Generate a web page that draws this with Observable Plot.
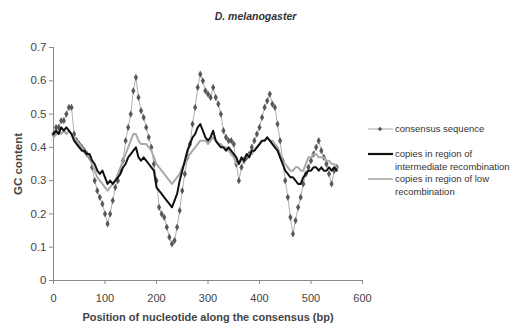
<!DOCTYPE html>
<html>
<head>
<meta charset="utf-8">
<script src="https://cdn.jsdelivr.net/npm/d3@7"></script>
<script src="https://cdn.jsdelivr.net/npm/@observablehq/plot@0.6"></script>
<style>
  html, body { margin: 0; padding: 0; background: #fff; }
  #wrap { position: relative; width: 511px; height: 334px; font-family: "Liberation Sans", Arial, sans-serif; color: #333; }
  #title { position: absolute; left: 0; width: 511px; top: 10px; text-align: center; font-size: 10.5px; font-weight: bold; font-style: italic; color: #333; }
  #legend { position: absolute; left: 366px; top: 0; font-size: 9.5px; color: #333; }
  .li { position: absolute; left: 0; white-space: nowrap; }
  .li svg { position: absolute; left: 0; top: 0; }
  .li span { position: absolute; left: 29px; top: -6px; line-height: 12.5px; }
  #chart svg [aria-label="y-axis label"] text, #chart svg [aria-label="x-axis label"] text { font-weight: bold; }
</style>
</head>
<body>
<div id="wrap">
  <div id="chart"></div>
  <div id="title">D. melanogaster</div>
  <div id="legend"></div>
</div>
<script>
const position = [0,5,10,15,20,25,30,35,40,45,50,55,60,65,70,75,80,85,90,95,
  100,105,110,115,120,125,130,135,140,145,150,155,160,165,170,175,180,185,190,195,
  200,205,210,215,220,225,230,235,240,245,250,255,260,265,270,275,280,285,290,295,
  300,305,310,315,320,325,330,335,340,345,350,355,360,365,370,375,380,385,390,395,
  400,405,410,415,420,425,430,435,440,445,450,455,460,465,470,475,480,485,490,495,
  500,505,510,515,520,525,530,535,540,545,550];

const consensus = [0.44,0.46,0.46,0.48,0.48,0.50,0.52,0.52,0.44,0.42,0.41,0.40,0.39,0.38,0.37,0.34,0.30,0.27,0.25,0.23,
  0.20,0.17,0.20,0.24,0.28,0.30,0.33,0.36,0.42,0.46,0.50,0.57,0.61,0.55,0.51,0.49,0.46,0.43,0.40,0.35,
  0.30,0.22,0.20,0.19,0.16,0.13,0.11,0.12,0.16,0.21,0.27,0.32,0.37,0.41,0.47,0.52,0.58,0.62,0.60,0.57,
  0.56,0.55,0.58,0.55,0.53,0.50,0.45,0.43,0.42,0.42,0.41,0.35,0.30,0.34,0.36,0.37,0.38,0.40,0.42,0.44,
  0.46,0.49,0.52,0.54,0.56,0.53,0.52,0.47,0.42,0.36,0.30,0.25,0.19,0.14,0.18,0.22,0.25,0.29,0.32,0.34,
  0.36,0.38,0.40,0.42,0.39,0.37,0.35,0.32,0.29,0.33,0.34];

const intermediate = [0.44,0.45,0.44,0.46,0.45,0.46,0.45,0.44,0.42,0.41,0.40,0.39,0.39,0.38,0.38,0.36,0.35,0.33,0.32,0.33,
  0.31,0.29,0.30,0.29,0.30,0.31,0.32,0.34,0.35,0.37,0.38,0.39,0.40,0.37,0.36,0.37,0.36,0.35,0.34,0.33,
  0.28,0.27,0.26,0.25,0.24,0.23,0.22,0.24,0.26,0.30,0.33,0.36,0.39,0.41,0.43,0.44,0.46,0.47,0.45,0.43,
  0.42,0.43,0.45,0.42,0.41,0.40,0.40,0.39,0.40,0.39,0.38,0.37,0.35,0.37,0.36,0.38,0.37,0.39,0.39,0.40,
  0.41,0.42,0.42,0.43,0.42,0.41,0.40,0.39,0.37,0.35,0.33,0.32,0.31,0.31,0.30,0.29,0.29,0.31,0.32,0.33,
  0.33,0.34,0.34,0.33,0.34,0.33,0.33,0.34,0.33,0.34,0.33];

const low = [0.43,0.44,0.45,0.44,0.45,0.44,0.45,0.44,0.43,0.42,0.41,0.40,0.39,0.38,0.37,0.35,0.33,0.31,0.30,0.29,
  0.28,0.27,0.28,0.29,0.30,0.32,0.34,0.36,0.38,0.40,0.42,0.44,0.44,0.42,0.41,0.41,0.41,0.40,0.39,0.37,
  0.35,0.34,0.33,0.32,0.31,0.30,0.29,0.30,0.31,0.32,0.34,0.35,0.37,0.38,0.39,0.40,0.41,0.42,0.42,0.42,
  0.41,0.42,0.43,0.42,0.41,0.41,0.40,0.40,0.39,0.38,0.37,0.35,0.35,0.36,0.37,0.37,0.38,0.38,0.39,0.40,
  0.41,0.42,0.42,0.43,0.42,0.42,0.41,0.40,0.38,0.36,0.35,0.34,0.33,0.33,0.34,0.34,0.33,0.33,0.35,0.37,
  0.37,0.38,0.38,0.37,0.37,0.37,0.36,0.36,0.35,0.35,0.34];

const seriesNames = ["consensus sequence", "copies in region of\nintermediate recombination", "copies in region of low\nrecombination"];
const xTicks = [0,100,200,300,400,500,600];
const yTicks = [0,0.1,0.2,0.3,0.4,0.5,0.6,0.7];

const rows = (vals) => position.map((p, i) => ({x: p, y: vals[i]}));
const cons = rows(consensus), inter = rows(intermediate), lo = rows(low);

const axisColor = "#8a8a8a";
const textColor = "#444";

const plot = Plot.plot({
  width: 511,
  height: 334,
  marginLeft: 53,
  marginRight: 149,
  marginTop: 47,
  marginBottom: 54,
  style: {fontFamily: "Liberation Sans, Arial, sans-serif", fontSize: "11px", color: textColor, background: "#fff"},
  x: {domain: [0, 600]},
  y: {domain: [0, 0.7]},
  marks: [
    Plot.axisX({ticks: xTicks, tickSize: 4, tickPadding: 10, stroke: axisColor, fill: textColor,
      label: "Position of nucleotide along the consensus (bp)", labelAnchor: "center", labelArrow: "none", labelOffset: 40, fontSize: 11}),
    Plot.axisY({ticks: yTicks, tickSize: 4, tickPadding: 3, stroke: axisColor, fill: textColor,
      tickFormat: d => d === 0 ? "0" : d3.format(".1f")(d),
      label: "GC content", labelAnchor: "center", labelArrow: "none", labelOffset: 40, fontSize: 11.5}),
    Plot.ruleY([0], {stroke: axisColor, strokeWidth: 1}),
    Plot.ruleX([0], {stroke: axisColor, strokeWidth: 1}),
    Plot.line(cons, {x: "x", y: "y", stroke: "#b0b0b0", strokeWidth: 1}),
    Plot.dot(cons, {x: "x", y: "y", symbol: "diamond", r: 2.2, fill: "#585858", stroke: "none"}),
    Plot.line(lo, {x: "x", y: "y", stroke: "#a9a9a9", strokeWidth: 2}),
    Plot.line(inter, {x: "x", y: "y", stroke: "#111", strokeWidth: 2})
  ]
});
document.getElementById("chart").appendChild(plot);

// Legend (HTML)
const legend = document.getElementById("legend");
const legendItems = [
  {name: seriesNames[0], top: 129, stroke: "#a8a8a8", width: 1, marker: true},
  {name: seriesNames[1], top: 154, stroke: "#111", width: 2.2, marker: false},
  {name: seriesNames[2], top: 179, stroke: "#a9a9a9", width: 1.6, marker: false}
];
legendItems.forEach(it => {
  const d = document.createElement("div");
  d.className = "li";
  d.style.top = it.top + "px";
  const svg = d3.create("svg").attr("width", 28).attr("height", 10).style("top", "-5px").style("overflow", "visible");
  svg.append("line").attr("x1", 2).attr("x2", 27).attr("y1", 5).attr("y2", 5).attr("stroke", it.stroke).attr("stroke-width", it.width);
  if (it.marker) svg.append("path").attr("d", d3.symbol(d3.symbolDiamond2, 12)()).attr("transform", "translate(14,5)").attr("fill", "#555");
  d.appendChild(svg.node());
  const s = document.createElement("span");
  s.innerHTML = it.name.replace("\n", "<br>");
  d.appendChild(s);
  legend.appendChild(d);
});
</script>
</body>
</html>
